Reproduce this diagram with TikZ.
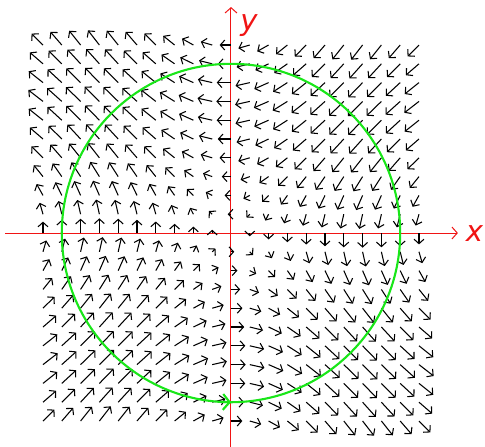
\documentclass[tikz,border=0pt]{standalone}
\usepackage{fontspec}
\setmainfont{DejaVu Sans}
\usetikzlibrary{arrows.meta}
\definecolor{curvegreen}{RGB}{25,230,25}
\definecolor{axisred}{RGB}{240,20,20}
\begin{document}
\begin{tikzpicture}[x=0.5cm,y=0.5cm,
  vec/.style={line width=0.8pt,black,-{Straight Barb[length=3.4pt,width=7.5pt]}},
  axisline/.style={line width=0.75pt,axisred,-{Straight Barb[length=4pt,width=9pt]}},
  axislabel/.style={text=axisred,font=\fontsize{22}{26}\selectfont\itshape,inner sep=0pt},
  pathcurve/.style={line width=1.6pt,curvegreen}]
\useasboundingbox (-12.287,-11.330) rectangle (13.511,12.394);
% axes
\coordinate (xs) at (-12.02,0);
\coordinate (xe) at (12.07,0);
\coordinate (ys) at (0,-11.40);
\coordinate (ye) at (0,12.02);
\draw[axisline] (xs) -- (xe);
\draw[axisline] (ys) -- (ye);
\node[axislabel] (xl) at (12.95,-0.05) {x};
\node[axislabel] (yl) at (0.96,11.05) {y};
% vector field
\foreach \i in {-10,...,10}{
  \foreach \j in {-10,...,10}{
    \pgfmathsetmacro{\u}{-0.78*sin(12.9*\j)}
    \pgfmathsetmacro{\v}{-0.78*sin(12.9*\i)}
    \pgfmathtruncatemacro{\zero}{(\i==0)&&(\j==0)}
    \ifnum\zero=0
      \draw[vec] (\i,\j) -- ++(\u,\v);
    \fi
  }
}
% closed curve
\coordinate (o) at (0,0);
\draw[pathcurve] (o) circle (9);
\coordinate (a0) at (-0.6,-8.98);
\coordinate (a1) at (0,-9);
\draw[pathcurve,-{Straight Barb[length=5pt,width=12pt]}] (a0) -- (a1);
\end{tikzpicture}
\end{document}
